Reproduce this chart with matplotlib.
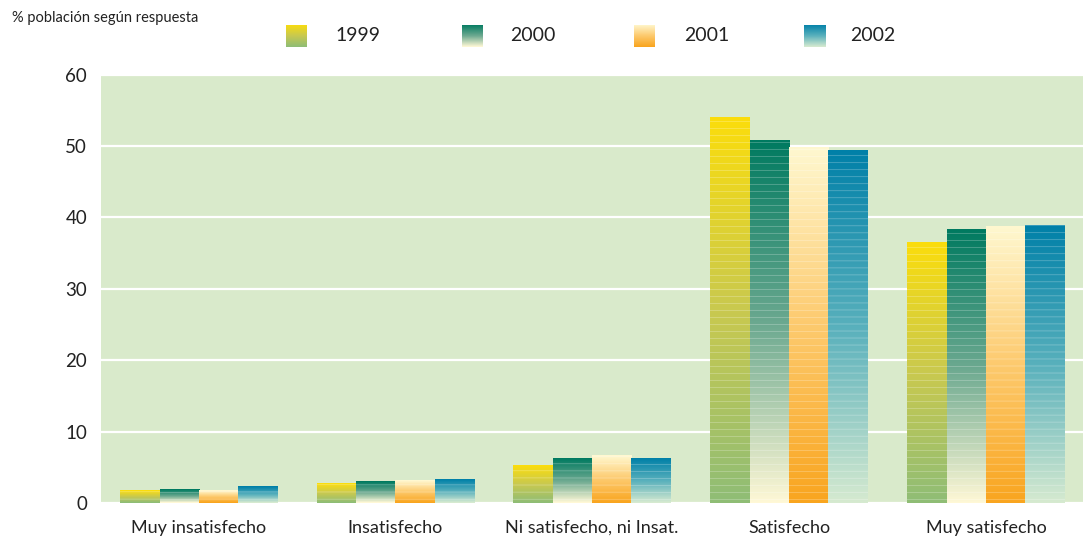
import numpy as np
import matplotlib
matplotlib.use("Agg")
import matplotlib.pyplot as plt
from matplotlib.colors import to_rgb

# Survey data: % of population by answer
categories = ["Muy insatisfecho", "Insatisfecho", "Ni satisfecho, ni Insat.",
              "Satisfecho", "Muy satisfecho"]
years = ["1999", "2000", "2001", "2002"]
v1999 = [1.7, 2.7, 5.2, 54.0, 36.5]
v2000 = [1.95, 2.95, 6.2, 50.8, 38.3]
v2001 = [1.7, 3.1, 6.6, 49.8, 38.7]
v2002 = [2.25, 3.25, 6.3, 49.3, 38.8]
series = [v1999, v2000, v2001, v2002]
yticks = [0, 10, 20, 30, 40, 50, 60]

# Layout (x in figure pixels)
W, H = 1083, 545
group_centers = [199, 395.5, 592, 789, 986]
bar_width = 39.3

# Vertical gradients per series: top, middle, bottom
gradients = [
    ["#fbdd0c", "#c9c94f", "#8fbd76"],
    ["#007a60", "#6aa88f", "#fff8d6"],
    ["#fff8d0", "#fdca6e", "#f9a51f"],
    ["#0080a8", "#58b0bc", "#d6ead0"],
]
bg = "#d9eacb"
font = ["Lato", "DejaVu Sans"]
plt.rcParams["font.family"] = font


def gradient_img(cols, n, stripes=True):
    c = np.array([to_rgb(x) for x in cols])
    t = np.linspace(0, 1, n)[:, None]  # 0 = top, 1 = bottom
    top = c[0] + (c[1] - c[0]) * np.clip(t * 2, 0, 1)
    img = np.where(t < 0.5, top, c[1] + (c[2] - c[1]) * np.clip(t * 2 - 1, 0, 1))
    if stripes:
        rows = np.arange(n)
        mask = ((n - 1 - rows) % 7 == 3)
        img[mask] = img[mask] * 0.78 + 0.22
    return img[:, None, :]


fig = plt.figure(figsize=(W / 100, H / 100), dpi=100)
ax_l, ax_b, ax_t = 101, 503, 74.5
ax = fig.add_axes([ax_l / W, (H - ax_b) / H, (W - ax_l) / W, (ax_b - ax_t) / H])
ax.set_facecolor(bg)
for s in ax.spines.values():
    s.set_visible(False)
ax.set_yticks(yticks)
ax.set_yticklabels([str(t) for t in yticks], fontsize=13.5, color="#222222")
ax.tick_params(axis="both", length=0)
ax.tick_params(axis="y", pad=10)
ax.yaxis.grid(True, color="white", linewidth=1.6)
ax.set_axisbelow(True)
ax.set_xticks(group_centers)
ax.set_xticklabels(categories, fontsize=13, color="#222222")
ax.tick_params(axis="x", pad=12)

px_per_unit = (ax_b - ax_t) / 60
for gi, c in enumerate(group_centers):
    x0 = c - 2 * bar_width
    for si, vals in enumerate(series):
        v = vals[gi]
        n = max(int(round(v * px_per_unit)), 2)
        img = gradient_img(gradients[si], n)
        left = x0 + si * bar_width
        ax.imshow(img, extent=(left, left + bar_width, 0, v), aspect="auto",
                  interpolation="bilinear", zorder=3)
ax.set_xlim(ax_l, W)
ax.set_ylim(0, 60)

# Axis title
fig.text(12 / W, 1 - 18 / H, "% población según respuesta", fontsize=10.5,
         color="#222222", va="center", ha="left")

# Legend with gradient swatches
swatch_x = [286, 462, 634, 804]
label_x = [335, 510, 684, 850]
for si in range(4):
    sax = fig.add_axes([swatch_x[si] / W, 1 - 47 / H, 21 / W, 22 / H])
    sax.imshow(gradient_img(gradients[si], 40, stripes=False), aspect="auto",
               extent=(0, 1, 0, 1), interpolation="bilinear")
    sax.set_axis_off()
    fig.text(label_x[si] / W, 1 - 35 / H, years[si], fontsize=14,
             color="#222222", va="center", ha="left")

fig.savefig("out.png", dpi=100)
